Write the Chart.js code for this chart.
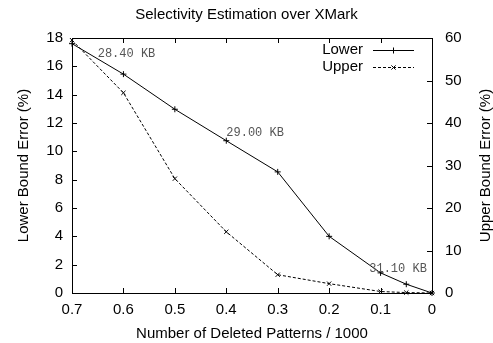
<!DOCTYPE html>
<html>
<head>
<meta charset="utf-8">
<script src="https://cdn.jsdelivr.net/npm/chart.js@4/dist/chart.umd.min.js"></script>
<style>
  html, body { margin: 0; padding: 0; background: #fff; }
  #wrap { width: 493px; height: 343px; }
</style>
</head>
<body>
<div id="wrap"><canvas id="c" width="493" height="343"></canvas></div>
<script>
// ---- data ----
const deletedPatterns = [0.7, 0.6, 0.5, 0.4, 0.3, 0.2, 0.1, 0.05, 0];
const lowerError = [17.6, 15.45, 12.97, 10.75, 8.55, 4.0, 1.42, 0.62, 0];
const upperError = [59.5, 47.1, 26.9, 14.4, 4.3, 2.2, 0.35, 0.1, 0];
const seriesNames = ['Lower', 'Upper'];
const sizeLabels = ['28.40 KB', '29.00 KB', '31.10 KB'];
const sizeLabelX = [0.65, 0.4, 0.122];
const sizeLabelY = [16.85, 11.3, 1.74];
const titleText = 'Selectivity Estimation over XMark';
const xTitle = 'Number of Deleted Patterns / 1000';
const yTitle = 'Lower Bound Error (%)';
const y2Title = 'Upper Bound Error (%)';

const FONT = '"Liberation Sans", Helvetica, Arial, sans-serif';

const toPts = (xs, ys) => xs.map((x, i) => ({ x: x, y: ys[i] }));

const framePlugin = {
  id: 'frame',
  afterDatasetsDraw(chart) {
    const { ctx, chartArea: a, scales } = chart;
    ctx.save();
    ctx.strokeStyle = '#000';
    ctx.lineWidth = 1;
    ctx.strokeRect(Math.round(a.left) + 0.5, Math.round(a.top) + 0.5,
                   Math.round(a.right - a.left), Math.round(a.bottom - a.top));
    const L = 5;
    ctx.beginPath();
    scales.x.ticks.forEach(t => {
      const px = Math.round(scales.x.getPixelForValue(t.value)) + 0.5;
      ctx.moveTo(px, a.bottom); ctx.lineTo(px, a.bottom - L);
      ctx.moveTo(px, a.top); ctx.lineTo(px, a.top + L);
    });
    scales.y.ticks.forEach(t => {
      const py = Math.round(scales.y.getPixelForValue(t.value)) + 0.5;
      ctx.moveTo(a.left, py); ctx.lineTo(a.left + L, py);
    });
    scales.y2.ticks.forEach(t => {
      const py = Math.round(scales.y2.getPixelForValue(t.value)) + 0.5;
      ctx.moveTo(a.right, py); ctx.lineTo(a.right - L, py);
    });
    ctx.stroke();

    // size annotations
    ctx.fillStyle = '#555';
    ctx.font = '12px "Liberation Mono", "Courier New", monospace';
    ctx.textAlign = 'left';
    ctx.textBaseline = 'middle';
    sizeLabels.forEach((s, i) => {
      ctx.fillText(s, scales.x.getPixelForValue(sizeLabelX[i]), scales.y.getPixelForValue(sizeLabelY[i]));
    });

    // legend
    ctx.font = '15px ' + FONT;
    ctx.fillStyle = '#000';
    ctx.textAlign = 'right';
    const rows = [a.top + 12, a.top + 28.5];
    const tx = a.right - 69, l0 = a.right - 59, l1 = a.right - 18;
    chart.data.datasets.forEach((ds, i) => {
      const y = rows[i];
      ctx.fillText(seriesNames[i], tx, y);
      ctx.save();
      ctx.setLineDash(ds.borderDash || []);
      ctx.beginPath();
      ctx.moveTo(l0, Math.round(y) + 0.5); ctx.lineTo(l1, Math.round(y) + 0.5);
      ctx.stroke();
      ctx.restore();
      Chart.helpers.drawPoint(ctx, { pointStyle: ds.pointStyle, radius: 3, borderWidth: 1 }, (l0 + l1) / 2, Math.round(y) + 0.5);
    });

    // right axis title (reads bottom-to-top like the left one)
    ctx.save();
    ctx.translate(a.right + 54, (a.top + a.bottom) / 2);
    ctx.rotate(-Math.PI / 2);
    ctx.textAlign = 'center';
    ctx.textBaseline = 'middle';
    ctx.fillText(y2Title, 0, 0);
    ctx.restore();
    ctx.restore();
  }
};

new Chart(document.getElementById('c'), {
  type: 'line',
  data: {
    datasets: [
      {
        label: seriesNames[0],
        data: toPts(deletedPatterns, lowerError),
        yAxisID: 'y',
        borderColor: '#000', backgroundColor: '#000', borderWidth: 1,
        pointStyle: 'cross', pointRadius: 3, pointBorderWidth: 1,
        pointBorderColor: '#000', tension: 0, clip: false
      },
      {
        label: seriesNames[1],
        data: toPts(deletedPatterns, upperError),
        yAxisID: 'y2',
        borderColor: '#000', backgroundColor: '#000', borderWidth: 1,
        borderDash: [3, 2],
        pointStyle: 'crossRot', pointRadius: 3, pointBorderWidth: 1,
        pointBorderColor: '#000', tension: 0, clip: false
      }
    ]
  },
  options: {
    responsive: false,
    animation: false,
    layout: { padding: 0 },
    plugins: {
      legend: { display: false },
      tooltip: { enabled: false },
      title: {
        display: true, text: titleText, color: '#000',
        font: { family: FONT, size: 15, weight: 'normal' },
        padding: { top: 6, bottom: 14 }
      }
    },
    scales: {
      x: {
        type: 'linear', reverse: true, min: 0, max: 0.7,
        grid: { display: false, drawTicks: false, tickLength: 0 },
        border: { display: false },
        ticks: {
          stepSize: 0.1, color: '#000', padding: 8, maxRotation: 0,
          font: { family: FONT, size: 15 },
          callback: v => (Math.abs(v) < 1e-9 ? '0' : v.toFixed(1))
        },
        title: { display: true, text: xTitle, color: '#000', font: { family: FONT, size: 15 }, padding: { top: 1, bottom: 0 } },
        afterFit: s => { s.height = 50; }
      },
      y: {
        position: 'left', min: 0, max: 18,
        grid: { display: false, drawTicks: false, tickLength: 0 },
        border: { display: false },
        ticks: { stepSize: 2, color: '#000', padding: 9, font: { family: FONT, size: 15 } },
        title: { display: true, text: yTitle, color: '#000', font: { family: FONT, size: 15 }, padding: { top: 15, bottom: 0 } },
        afterFit: s => { s.width = 72; }
      },
      y2: {
        position: 'right', min: 0, max: 60,
        grid: { display: false, drawTicks: false, tickLength: 0 },
        border: { display: false },
        ticks: { stepSize: 10, color: '#000', padding: 13, font: { family: FONT, size: 15 } },
        title: { display: false },
        afterFit: s => { s.width = 61; }
      }
    }
  },
  plugins: [framePlugin]
});
</script>
</body>
</html>
